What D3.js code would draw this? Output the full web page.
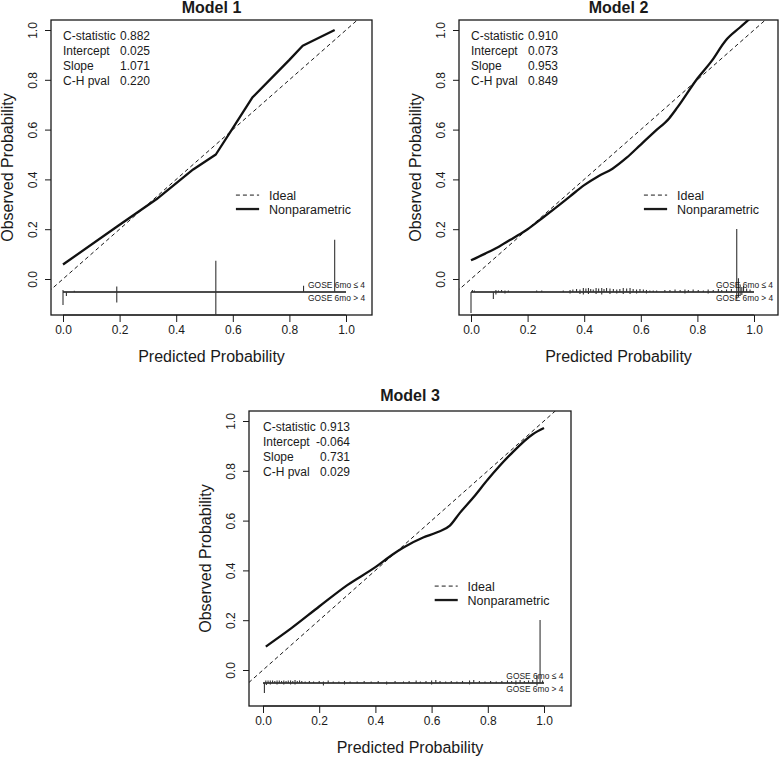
<!DOCTYPE html>
<html><head><meta charset="utf-8">
<script src="https://cdn.jsdelivr.net/npm/d3@7"></script>
<style>
body{margin:0;background:#fff;}
svg{display:block;font-family:"Liberation Sans",Arial,sans-serif;}
</style></head>
<body>
<svg id="chart" width="780" height="757"></svg>
<script>
// ---------------- DATA ----------------
const modelNames = ["Model 1", "Model 2", "Model 3"];
const statLabels = ["C-statistic", "Intercept", "Slope", "C-H pval"];
const statValues1 = ["0.882", "0.025", "1.071", "0.220"];
const statValues2 = ["0.910", "0.073", "0.953", "0.849"];
const statValues3 = ["0.913", "-0.064", "0.731", "0.029"];
const tickValues = [0, 0.2, 0.4, 0.6, 0.8, 1.0];
const legendLabels = ["Ideal", "Nonparametric"];
const rugLabels = ["GOSE 6mo \u2264 4", "GOSE 6mo > 4"];

// nonparametric calibration curves [predicted, observed]
const curve1 = [[0,0.058],[0.19,0.21],[0.33,0.32],[0.46,0.44],[0.54,0.5],[0.6,0.606],[0.67,0.73],[0.8,0.88],[0.847,0.937],[0.96,1.0]];
const curve2 = [[0,0.075],[0.05,0.102],[0.1,0.131],[0.15,0.165],[0.2,0.2],[0.25,0.243],[0.3,0.287],[0.35,0.332],[0.4,0.377],[0.45,0.413],[0.5,0.443],[0.55,0.487],[0.6,0.54],[0.65,0.593],[0.7,0.645],[0.73,0.69],[0.8,0.805],[0.85,0.875],[0.9,0.958],[0.95,1.01],[0.99,1.05]];
const curve3 = [[0.01,0.094],[0.1,0.167],[0.2,0.255],[0.3,0.341],[0.4,0.413],[0.46,0.463],[0.5,0.492],[0.57,0.532],[0.62,0.553],[0.665,0.58],[0.7,0.63],[0.75,0.695],[0.8,0.765],[0.88,0.865],[0.96,0.947],[1.0,0.972]];

// rug spikes [predicted, spike length] ; up = GOSE<=4, down = GOSE>4
const rugUp1 = [[0.0,0.008],[0.04,0.005],[0.19,0.022],[0.54,0.125],[0.85,0.025],[0.96,0.21]];
const rugDown1 = [[0.0,0.052],[0.012,0.016],[0.19,0.042],[0.54,0.095]];
const rugUp2 = [[0.005,0.008],[0.012,0.006],[0.088,0.008],[0.097,0.006],[0.108,0.008],[0.12,0.006],[0.132,0.006],[0.232,0.006],[0.25,0.006],[0.326,0.006],[0.35,0.008],[0.36,0.01],[0.373,0.012],[0.385,0.01],[0.397,0.016],[0.406,0.014],[0.415,0.016],[0.423,0.012],[0.432,0.01],[0.442,0.016],[0.451,0.014],[0.462,0.016],[0.47,0.012],[0.479,0.016],[0.491,0.014],[0.503,0.012],[0.515,0.01],[0.526,0.012],[0.538,0.016],[0.55,0.014],[0.562,0.016],[0.573,0.012],[0.585,0.01],[0.597,0.012],[0.609,0.01],[0.62,0.008],[0.632,0.006],[0.644,0.006],[0.656,0.006],[0.685,0.008],[0.703,0.008],[0.721,0.01],[0.739,0.008],[0.756,0.01],[0.768,0.008],[0.785,0.01],[0.803,0.008],[0.821,0.006],[0.838,0.01],[0.856,0.008],[0.874,0.012],[0.886,0.008],[0.903,0.01],[0.92,0.012],[0.939,0.253],[0.945,0.055],[0.951,0.03],[0.957,0.02],[0.963,0.024],[0.974,0.014],[0.986,0.01]];
const rugDown2 = [[0.0,0.085],[0.079,0.028],[0.088,0.01],[0.12,0.006],[0.35,0.006],[0.385,0.008],[0.397,0.01],[0.415,0.008],[0.442,0.008],[0.462,0.01],[0.491,0.008],[0.515,0.006],[0.538,0.008],[0.562,0.008],[0.585,0.006],[0.62,0.006],[0.756,0.006],[0.838,0.006],[0.939,0.03],[0.945,0.02],[0.951,0.016],[0.957,0.012]];
const rugUp3 = [[0.01,0.01],[0.018,0.01],[0.026,0.01],[0.034,0.01],[0.042,0.008],[0.05,0.01],[0.058,0.01],[0.066,0.008],[0.074,0.01],[0.082,0.008],[0.09,0.01],[0.098,0.01],[0.106,0.008],[0.114,0.012],[0.122,0.008],[0.13,0.01],[0.138,0.008],[0.15,0.006],[0.165,0.008],[0.18,0.006],[0.2,0.008],[0.215,0.006],[0.232,0.01],[0.25,0.006],[0.27,0.006],[0.29,0.008],[0.31,0.006],[0.335,0.006],[0.36,0.008],[0.385,0.006],[0.41,0.008],[0.44,0.006],[0.47,0.008],[0.5,0.006],[0.52,0.008],[0.545,0.01],[0.56,0.006],[0.58,0.008],[0.6,0.01],[0.615,0.012],[0.63,0.008],[0.65,0.006],[0.67,0.008],[0.69,0.006],[0.71,0.008],[0.735,0.01],[0.75,0.012],[0.77,0.008],[0.79,0.006],[0.81,0.008],[0.83,0.006],[0.85,0.008],[0.87,0.01],[0.885,0.008],[0.9,0.01],[0.915,0.012],[0.93,0.008],[0.945,0.01],[0.96,0.012],[0.975,0.032],[0.986,0.253],[0.995,0.01]];
const rugDown3 = [[0.005,0.04],[0.012,0.008],[0.026,0.006],[0.05,0.006],[0.074,0.006],[0.098,0.006],[0.114,0.006],[0.215,0.01],[0.29,0.006],[0.44,0.006],[0.6,0.006],[0.735,0.006],[0.9,0.006],[0.975,0.01]];

const rugBaseline = -0.052;   // y-value of rug axis line
const legendPos = {x1: 0.611, x2: 0.693, xt: 0.728, y: [0.337, 0.281]};
const rugTextPos = {x: 0.866, y: [-0.024, -0.076]};

// ---------------- LAYOUT ----------------
const panels = [
  {name: modelNames[0], stats: statValues1, curve: curve1, up: rugUp1, down: rugDown1, smooth: false,
   x0: 63, x1: 346, y0: 279, y1: 30, box: [51, 20, 372, 315], titleY: 13},
  {name: modelNames[1], stats: statValues2, curve: curve2, up: rugUp2, down: rugDown2, smooth: true,
   x0: 471, x1: 754, y0: 279, y1: 30, box: [459, 20, 778, 315], titleY: 13},
  {name: modelNames[2], stats: statValues3, curve: curve3, up: rugUp3, down: rugDown3, smooth: true,
   x0: 263, x1: 544, y0: 670, y1: 421, box: [249, 411, 571, 706], titleY: 401}
];

const svg = d3.select("#chart");
const defs = svg.append("defs");
const ink = "#1a1a1a";

panels.forEach((p, i) => {
  const x = d3.scaleLinear().domain([0, 1]).range([p.x0, p.x1]);
  const y = d3.scaleLinear().domain([0, 1]).range([p.y0, p.y1]);
  const [bl, bt, br, bb] = p.box;
  const g = svg.append("g");

  defs.append("clipPath").attr("id", "clip" + i)
    .append("rect").attr("x", bl).attr("y", bt).attr("width", br - bl).attr("height", bb - bt);

  // title
  g.append("text").attr("x", (bl + br) / 2).attr("y", p.titleY)
    .attr("text-anchor", "middle").attr("font-weight", "bold").attr("font-size", 16).attr("fill", ink)
    .text(p.name);

  // axes
  const xAxis = d3.axisBottom(x).tickValues(tickValues).tickFormat(d3.format(".1f")).tickSizeOuter(0).tickSize(7).tickPadding(3);
  const gx = g.append("g").attr("transform", `translate(0,${bb})`).call(xAxis);
  gx.select(".domain").attr("d", `M${x(0)},0H${x(1)}`).attr("stroke", ink);
  gx.selectAll(".tick line").attr("stroke", ink);
  gx.selectAll(".tick text").attr("font-size", 12).attr("fill", ink).attr("font-family", "Liberation Sans, Arial, sans-serif");

  const yAxis = d3.axisLeft(y).tickValues(tickValues).tickFormat(d3.format(".1f")).tickSizeOuter(0).tickSize(6);
  const gy = g.append("g").attr("transform", `translate(${bl},0)`).call(yAxis);
  gy.select(".domain").remove();
  gy.selectAll(".tick line").attr("stroke", ink);
  gy.selectAll(".tick text").attr("font-size", 12).attr("fill", ink)
    .attr("font-family", "Liberation Sans, Arial, sans-serif")
    .attr("text-anchor", "middle").attr("dy", 0).attr("x", 0)
    .attr("transform", "translate(-14,0) rotate(-90)");

  // box
  g.append("rect").attr("x", bl).attr("y", bt).attr("width", br - bl).attr("height", bb - bt)
    .attr("fill", "none").attr("stroke", ink).attr("stroke-width", 1.3);

  // axis titles
  g.append("text").attr("transform", `translate(${bl - 38},${(bt + bb) / 2}) rotate(-90)`)
    .attr("text-anchor", "middle").attr("font-size", 16).attr("fill", ink).text("Observed Probability");
  g.append("text").attr("x", (bl + br) / 2).attr("y", bb + 47)
    .attr("text-anchor", "middle").attr("font-size", 16).attr("fill", ink).text("Predicted Probability");

  const plot = g.append("g").attr("clip-path", `url(#clip${i})`);

  // ideal diagonal
  plot.append("line").attr("x1", x(-0.2)).attr("y1", y(-0.2)).attr("x2", x(1.2)).attr("y2", y(1.2))
    .attr("stroke", ink).attr("stroke-width", 1).attr("stroke-dasharray", "4,3");

  // nonparametric curve
  plot.append("path").datum(p.curve)
    .attr("d", d3.line().x(d => x(d[0])).y(d => y(d[1])).curve(p.smooth ? d3.curveMonotoneX : d3.curveLinear))
    .attr("fill", "none").attr("stroke", "#111").attr("stroke-width", 2.3).attr("stroke-linejoin", "round");

  // stats text
  statLabels.forEach((lab, k) => {
    const ty = y(1) + 9.5 + k * 15;
    g.append("text").attr("x", x(0)).attr("y", ty).attr("font-size", 12).attr("fill", ink).text(lab);
    g.append("text").attr("x", x(0) + 87).attr("y", ty).attr("text-anchor", "end").attr("font-size", 12).attr("fill", ink).text(p.stats[k]);
  });

  // legend
  legendLabels.forEach((lab, k) => {
    const ly = y(legendPos.y[k]);
    g.append("line").attr("x1", x(legendPos.x1)).attr("x2", x(legendPos.x2)).attr("y1", ly).attr("y2", ly)
      .attr("stroke", ink).attr("stroke-width", k === 0 ? 1 : 2.3)
      .attr("stroke-dasharray", k === 0 ? "4,3" : null);
    g.append("text").attr("x", x(legendPos.xt)).attr("y", ly + 4.5).attr("font-size", 12.5).attr("fill", ink).text(lab);
  });

  // rug
  const yb = y(rugBaseline);
  plot.append("line").attr("x1", x(0)).attr("x2", x(1)).attr("y1", yb).attr("y2", yb)
    .attr("stroke", "#111").attr("stroke-width", 1.4);
  plot.selectAll(".up").data(p.up).enter().append("line")
    .attr("x1", d => x(d[0])).attr("x2", d => x(d[0]))
    .attr("y1", yb).attr("y2", d => y(rugBaseline + d[1]))
    .attr("stroke", "#333").attr("stroke-width", 1.1);
  plot.selectAll(".down").data(p.down).enter().append("line")
    .attr("x1", d => x(d[0])).attr("x2", d => x(d[0]))
    .attr("y1", yb).attr("y2", d => y(rugBaseline - d[1]))
    .attr("stroke", "#333").attr("stroke-width", 1.1);

  rugLabels.forEach((lab, k) => {
    g.append("text").attr("x", x(rugTextPos.x)).attr("y", y(rugTextPos.y[k]) + 3.4)
      .attr("font-size", 9.5).attr("textLength", 57).attr("lengthAdjust", "spacingAndGlyphs")
      .attr("fill", ink).text(lab);
  });
});
</script>
</body></html>
